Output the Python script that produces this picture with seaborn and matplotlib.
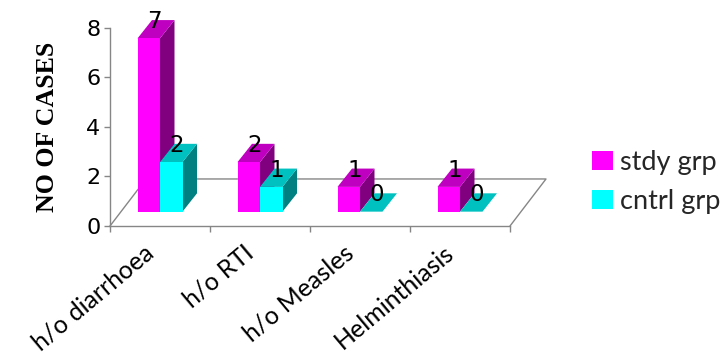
import matplotlib
matplotlib.use("Agg")
import matplotlib.pyplot as plt
import pandas as pd
import seaborn as sns
from matplotlib.patches import Patch, Polygon

categories = ["h/o diarrhoea", "h/o RTI", "h/o Measles", "Helminthiasis"]
stdy_grp = [7, 2, 1, 1]
cntrl_grp = [2, 1, 0, 0]
series_names = ["stdy grp", "cntrl grp"]
y_ticks = [0, 2, 4, 6, 8]

front_colors = ["#FF00FF", "#00FFFF"]
side_colors = ["#800080", "#008080"]
top_colors = ["#C000C0", "#00C0C0"]
axis_gray = "#868686"

# Extrusion and floor geometry, in data units of the axes
BAR_LIFT = 0.58
BAR_DX, BAR_DY = 0.145, 0.74
FLOOR_DX, FLOOR_DY = 0.36, 1.9

W, H = 723, 358
frame = pd.DataFrame({
    "category": categories * 2,
    "group": [series_names[0]] * 4 + [series_names[1]] * 4,
    "cases": stdy_grp + cntrl_grp,
})

sns.set_theme(style="white")
plt.rcParams["font.family"] = "DejaVu Sans"
fig = plt.figure(figsize=(W / 100, H / 100), dpi=100, facecolor="white")
ax = fig.add_axes([110 / W, 1 - 226 / H, 400 / W, 198 / H])

sns.barplot(data=frame, x="category", y="cases", hue="group", hue_order=series_names,
            palette=front_colors, saturation=1, width=0.45, gap=0, dodge=True,
            legend=False, linewidth=0, ax=ax)

ax.set_xlim(-0.5, 3.5)
ax.set_ylim(0, 8)
ax.set_yticks(y_ticks)

# Extrude every bar: side and top faces, then the value above the top face
for g, container in enumerate(ax.containers):
    for patch in container:
        value = patch.get_height()
        patch.set_y(BAR_LIFT)
        patch.set_zorder(2 + 2 * g)
        patch.set_clip_on(False)
        x0 = patch.get_x()
        x1 = x0 + patch.get_width()
        y0 = BAR_LIFT
        y1 = BAR_LIFT + value
        if value > 0:
            ax.add_patch(Polygon([(x1, y0), (x1 + BAR_DX, y0 + BAR_DY),
                                  (x1 + BAR_DX, y1 + BAR_DY), (x1, y1)],
                                 closed=True, fc=side_colors[g], ec="none",
                                 zorder=1 + 2 * g, clip_on=False))
        ax.add_patch(Polygon([(x0, y1), (x1, y1), (x1 + BAR_DX, y1 + BAR_DY),
                              (x0 + BAR_DX, y1 + BAR_DY)],
                             closed=True, fc=top_colors[g], ec="none",
                             zorder=1 + 2 * g, clip_on=False))
        ax.text((x0 + x1) / 2 + 0.055, y1 + 0.68, f"{value:.0f}", ha="center", va="center",
                fontsize=16.5, color="black", zorder=8, clip_on=False)

# Receding floor edges
x_lo, x_hi = ax.get_xlim()
ax.plot([x_lo, x_lo + FLOOR_DX, x_hi + FLOOR_DX, x_hi],
        [0, FLOOR_DY, FLOOR_DY, 0],
        color=axis_gray, lw=1, clip_on=False, zorder=0)

for side in ("top", "right"):
    ax.spines[side].set_visible(False)
for side in ("left", "bottom"):
    ax.spines[side].set_color(axis_gray)
    ax.spines[side].set_linewidth(1)

# Category boundaries carry the ticks, the labels hang from the group centres
ax.set_xticks([x_lo + i for i in range(len(categories) + 1)])
ax.set_xticklabels([])
ax.tick_params(axis="x", length=4, width=1, color=axis_gray, bottom=True)
ax.tick_params(axis="y", length=4, width=1, color=axis_gray, left=True, labelsize=16,
               labelcolor="black", pad=3)
ax.set_xlabel("")
ax.set_ylabel("")

for i, name in enumerate(categories):
    ax.annotate(name, xy=(i, 0), xycoords=("data", "axes fraction"),
                xytext=(-12, -11), textcoords="offset points",
                rotation=40, rotation_mode="anchor", ha="right", va="top",
                fontsize=18, family="Lato", color="black", annotation_clip=False)

fig.text(47.5 / W, 1 - 127 / H, "NO OF CASES", rotation=90, ha="center", va="center",
         fontsize=18.6, family="Liberation Serif", fontweight="bold", color="black")

handles = [Patch(fc=c, ec="none") for c in front_colors]
fig.legend(handles, series_names, loc="upper left", bbox_to_anchor=(592 / W, 1 - 150 / H),
           frameon=False, prop={"family": "Lato", "size": 19.5}, handlelength=0.78,
           handleheight=0.66, handletextpad=0.26, labelspacing=0.52, borderpad=0, borderaxespad=0)

fig.savefig("out.png", dpi=100, facecolor="white")
